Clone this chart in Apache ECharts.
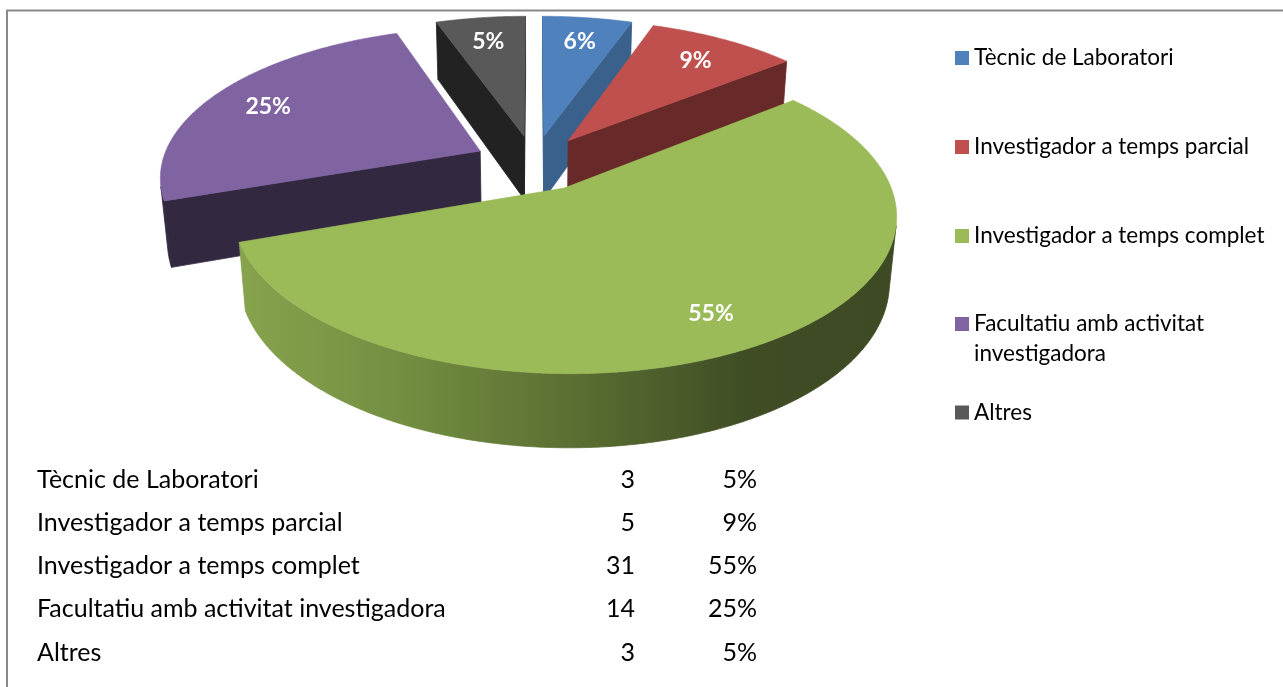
<!DOCTYPE html>
<html>
<head>
<meta charset="utf-8">
<script src="https://cdn.jsdelivr.net/npm/echarts@6/dist/echarts.min.js"></script>
<style>
html,body{margin:0;padding:0;background:#ffffff;}
#main{width:1283px;height:687px;}
</style>
</head>
<body>
<div id="main"></div>
<script>
// ---------------- data ----------------
const categories = [
  'Tècnic de Laboratori',
  'Investigador a temps parcial',
  'Investigador a temps complet',
  'Facultatiu amb activitat investigadora',
  'Altres'
];
const values = [3, 5, 31, 14, 3];
const pieLabels = ['6%', '9%', '55%', '25%', '5%'];
const tablePercents = ['5%', '9%', '55%', '25%', '5%'];
const legendLabels = [
  'Tècnic de Laboratori',
  'Investigador a temps parcial',
  'Investigador a temps complet',
  'Facultatiu amb activitat\ninvestigadora',
  'Altres'
];

// ---------------- styles ----------------
const topColors = ['#4f81bd', '#c0504d', '#9bbb59', '#8064a2', '#595959'];
const sideColors = ['#3a608c', '#682929', '#3e4b24', '#322840', '#222222'];
const FONT = 'Lato';

// ---------------- 3D projection (layout constants) ----------------
const CX = 534, CY = 163, G = 318.5, P = 0.18, COSE = 0.887, SINE = 0.4615;
const H = 0.233, EXPLODE = 0.19, LABEL_R = 0.8;
const CAM = [0, -COSE / P, SINE / P];
function proj(X, Y, Z) {
  const w = 1 + P * (Y * COSE - Z * SINE);
  return [CX + G * X / w, CY - G * (Z * COSE + Y * SINE) / w];
}

function sliceAngles(i) {
  const total = values.reduce((a, b) => a + b, 0);
  let before = 0;
  for (let k = 0; k < i; k++) before += values[k];
  const a1 = before / total * 2 * Math.PI;
  const a2 = (before + values[i]) / total * 2 * Math.PI;
  return [a1, a2, (a1 + a2) / 2];
}
// painter order: far slices (mid-angle pointing away) first
function depthRank(i) {
  const order = values.map((v, k) => k).sort((a, b) => Math.cos(sliceAngles(b)[2]) - Math.cos(sliceAngles(a)[2]));
  return order.indexOf(i);
}

function greenWallFill() {
  return new echarts.graphic.LinearGradient(0, 0, 1, 0, [
    { offset: 0, color: '#88a34d' },
    { offset: 0.25, color: '#738e41' },
    { offset: 0.55, color: '#566a30' },
    { offset: 0.78, color: '#3f4c24' },
    { offset: 1, color: '#3d4a23' }
  ]);
}

function makeRenderer(i) {
  return function (params, api) {
    const v = api.value(0);
    const total = values.reduce((a, b) => a + b, 0);
    let before = 0;
    for (let k = 0; k < i; k++) before += values[k];
    const a1 = before / total * 2 * Math.PI;
    const a2 = (before + v) / total * 2 * Math.PI;
    const am = (a1 + a2) / 2;
    const ox = EXPLODE * Math.sin(am), oy = EXPLODE * Math.cos(am);
    const rim = (a, z) => proj(ox + Math.sin(a), oy + Math.cos(a), z);
    const apexT = proj(ox, oy, 0), apexB = proj(ox, oy, -H);
    const base = depthRank(i) * 10;
    const children = [];
    const wallFill = (i === 2) ? greenWallFill() : sideColors[i];

    // radial face at start angle
    const n1 = [-Math.cos(a1), Math.sin(a1)];
    if (n1[0] * (CAM[0] - ox) + n1[1] * (CAM[1] - oy) > 0) {
      children.push({
        type: 'polygon', z2: base + 1,
        shape: { points: [apexT, rim(a1, 0), rim(a1, -H), apexB] },
        style: { fill: sideColors[i], stroke: sideColors[i], lineWidth: 0.8 }
      });
    }
    // radial face at end angle
    const n2 = [Math.cos(a2), -Math.sin(a2)];
    if (n2[0] * (CAM[0] - ox) + n2[1] * (CAM[1] - oy) > 0) {
      children.push({
        type: 'polygon', z2: base + 1,
        shape: { points: [apexT, rim(a2, 0), rim(a2, -H), apexB] },
        style: { fill: sideColors[i], stroke: sideColors[i], lineWidth: 0.8 }
      });
    }
    // outer curved wall, visible runs only
    const N = Math.max(4, Math.ceil((a2 - a1) / (Math.PI / 360)));
    const runs = [];
    let run = [];
    for (let k = 0; k <= N; k++) {
      const a = a1 + (a2 - a1) * k / N;
      const px = ox + Math.sin(a), py = oy + Math.cos(a);
      const vis = Math.sin(a) * (CAM[0] - px) + Math.cos(a) * (CAM[1] - py) > 0;
      if (vis) run.push(a);
      else { if (run.length > 1) runs.push(run); run = []; }
    }
    if (run.length > 1) runs.push(run);
    runs.forEach(r => {
      const pts = r.map(a => rim(a, 0)).concat(r.slice().reverse().map(a => rim(a, -H)));
      children.push({
        type: 'polygon', z2: base + 2,
        shape: { points: pts },
        style: { fill: wallFill, stroke: wallFill, lineWidth: 0.8 }
      });
    });
    // top face
    const topPts = [apexT];
    const M = Math.max(4, Math.ceil((a2 - a1) / (Math.PI / 360)));
    for (let k = 0; k <= M; k++) topPts.push(rim(a1 + (a2 - a1) * k / M, 0));
    children.push({
      type: 'polygon', z2: base + 3,
      shape: { points: topPts },
      style: { fill: topColors[i], stroke: topColors[i], lineWidth: 0.6 }
    });
    // percentage label
    const lp = proj(ox + LABEL_R * Math.sin(am), oy + LABEL_R * Math.cos(am), 0);
    children.push({
      type: 'text', z2: 1000,
      x: lp[0], y: lp[1] + 3,
      style: {
        text: pieLabels[i], fill: '#ffffff', font: 'bold 23px ' + FONT,
        align: 'center', verticalAlign: 'middle'
      }
    });
    return { type: 'group', children: children };
  };
}

const series = categories.map((name, i) => ({
  type: 'custom',
  name: name,
  coordinateSystem: 'none',
  silent: true,
  animation: false,
  itemStyle: { color: topColors[i] },
  data: [values[i]],
  renderItem: makeRenderer(i)
}));

// table below the chart
const rowY = [480, 523, 566, 609, 653];
const tableGraphics = [];
categories.forEach((name, i) => {
  const font = '25px ' + FONT;
  tableGraphics.push({ type: 'text', x: 37, y: rowY[i], style: { text: name, font: font, fill: '#000', align: 'left', verticalAlign: 'middle' } });
  tableGraphics.push({ type: 'text', x: 635, y: rowY[i], style: { text: String(values[i]), font: font, fill: '#000', align: 'right', verticalAlign: 'middle' } });
  tableGraphics.push({ type: 'text', x: 757, y: rowY[i], style: { text: tablePercents[i], font: font, fill: '#000', align: 'right', verticalAlign: 'middle' } });
});

const legendText = { fontFamily: FONT, fontSize: 22.5, color: '#000', lineHeight: 30 };
// a two-line entry gets an empty leading line so its first line sits beside the square
const legendFormatter = name => {
  const label = legendLabels[categories.indexOf(name)];
  return label.indexOf('\n') >= 0 ? '\n' + label : label;
};

const option = {
  backgroundColor: '#ffffff',
  animation: false,
  legend: [
    {
      orient: 'vertical', left: 955, top: 43, padding: 0, itemWidth: 14, itemHeight: 14, itemGap: 59,
      icon: 'rect', selectedMode: false, textStyle: legendText, formatter: legendFormatter,
      data: categories.slice(0, 3)
    },
    {
      orient: 'vertical', left: 955, top: 279, padding: 0, itemWidth: 14, itemHeight: 14, itemGap: 28.5,
      icon: 'rect', selectedMode: false, textStyle: legendText, formatter: legendFormatter,
      data: categories.slice(3)
    }
  ],
  graphic: [
    {
      type: 'rect', silent: true,
      shape: { x: 7, y: 10.5, width: 1400, height: 900 },
      style: { fill: 'none', stroke: '#898989', lineWidth: 2 }
    }
  ].concat(tableGraphics),
  series: series
};

const chart = echarts.init(document.getElementById('main'), null, { renderer: 'canvas' });
chart.setOption(option);
</script>
</body>
</html>
